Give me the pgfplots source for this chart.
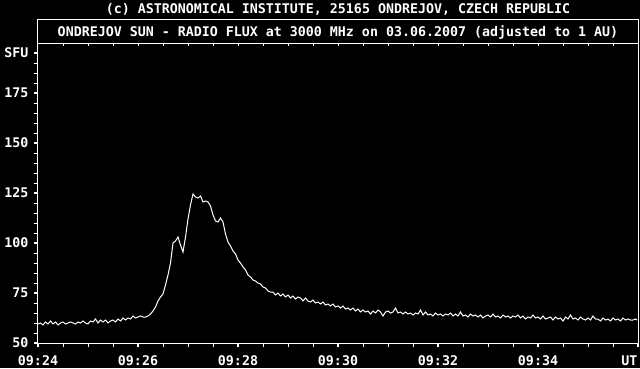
\documentclass[border=0pt]{standalone}
\usepackage{fontspec}
\setmainfont{DejaVu Sans Mono}
\usepackage{pgfplots}
\usepackage{pgfplotstable}
\pgfplotsset{compat=1.18}
\newcommand\f{\fontsize{13.3pt}{16pt}\selectfont\bfseries}

\pgfplotstableread{
t v
0.00 59.5
0.05 60.0
0.10 59.0
0.15 60.5
0.20 59.5
0.25 61.0
0.30 59.5
0.35 60.5
0.40 59.0
0.45 60.0
0.50 60.5
0.55 59.5
0.60 60.0
0.65 60.5
0.70 60.0
0.75 59.5
0.80 60.5
0.85 60.0
0.90 61.0
0.95 60.0
1.00 59.5
1.05 61.0
1.10 60.5
1.15 62.0
1.20 60.0
1.25 61.5
1.30 60.5
1.35 61.5
1.40 60.0
1.45 61.0
1.50 61.5
1.55 60.5
1.60 62.0
1.65 61.0
1.70 62.5
1.75 61.5
1.80 62.5
1.85 62.0
1.90 63.5
1.95 62.5
2.00 63.0
2.05 63.5
2.10 63.0
2.15 63.0
2.20 63.5
2.25 64.5
2.30 66.0
2.35 68.0
2.40 71.0
2.45 73.0
2.50 74.5
2.55 79.0
2.60 84.0
2.65 90.0
2.70 100.0
2.75 101.0
2.80 103.0
2.85 99.0
2.90 95.5
2.95 103.0
3.00 112.0
3.05 119.0
3.10 124.5
3.15 123.0
3.20 122.5
3.25 123.5
3.30 120.5
3.35 121.0
3.40 120.5
3.45 118.5
3.50 114.0
3.55 111.0
3.60 110.5
3.65 112.5
3.70 110.5
3.75 104.5
3.80 100.5
3.85 98.5
3.90 96.0
3.95 94.5
4.00 91.5
4.05 90.0
4.10 88.0
4.15 86.5
4.20 84.0
4.25 83.0
4.30 81.5
4.35 81.0
4.40 80.0
4.45 79.5
4.50 78.0
4.55 77.5
4.60 76.0
4.65 75.5
4.70 75.5
4.75 74.0
4.80 75.0
4.85 73.5
4.90 74.5
4.95 73.0
5.00 74.0
5.05 72.5
5.10 73.5
5.15 72.0
5.20 73.0
5.25 72.5
5.30 71.0
5.35 72.5
5.40 71.0
5.45 70.5
5.50 71.5
5.55 70.0
5.60 70.5
5.65 69.5
5.70 70.5
5.75 69.0
5.80 69.5
5.85 68.5
5.90 69.5
5.95 68.0
6.00 68.5
6.05 67.5
6.10 68.5
6.15 67.0
6.20 67.5
6.25 66.5
6.30 67.5
6.35 66.0
6.40 67.0
6.45 65.5
6.50 66.5
6.55 65.5
6.60 66.0
6.65 64.5
6.70 66.0
6.75 65.0
6.80 66.5
6.85 65.5
6.90 63.5
6.95 65.5
7.00 66.0
7.05 65.0
7.10 65.5
7.15 67.5
7.20 65.0
7.25 65.5
7.30 64.5
7.35 65.5
7.40 64.5
7.45 65.0
7.50 64.0
7.55 65.0
7.60 64.5
7.65 66.5
7.70 64.0
7.75 65.5
7.80 64.0
7.85 64.5
7.90 63.5
7.95 65.0
8.00 64.0
8.05 64.5
8.10 63.5
8.15 64.5
8.20 64.0
8.25 65.0
8.30 63.5
8.35 64.5
8.40 63.5
8.45 65.5
8.50 63.5
8.55 64.0
8.60 63.0
8.65 64.5
8.70 63.5
8.75 64.0
8.80 63.0
8.85 64.0
8.90 62.5
8.95 63.5
9.00 64.0
9.05 63.0
9.10 64.5
9.15 63.0
9.20 63.5
9.25 62.5
9.30 64.0
9.35 63.0
9.40 63.5
9.45 62.5
9.50 63.5
9.55 63.0
9.60 64.0
9.65 62.5
9.70 63.5
9.75 62.0
9.80 63.0
9.85 62.5
9.90 64.0
9.95 62.5
10.00 63.0
10.05 62.0
10.10 63.5
10.15 62.0
10.20 62.5
10.25 63.0
10.30 61.5
10.35 63.0
10.40 62.0
10.45 62.5
10.50 61.0
10.55 63.0
10.60 62.0
10.65 64.0
10.70 62.0
10.75 62.5
10.80 61.5
10.85 63.0
10.90 62.0
10.95 61.5
11.00 62.5
11.05 61.5
11.10 63.5
11.15 62.0
11.20 62.0
11.25 61.0
11.30 62.5
11.35 61.5
11.40 62.0
11.45 61.0
11.50 62.5
11.55 61.5
11.60 62.0
11.65 61.0
11.70 62.5
11.75 61.5
11.80 62.0
11.85 61.5
11.90 61.5
11.95 62.0
11.98 61.5
}\flux

\begin{document}
\begin{tikzpicture}
\path[use as bounding box, fill=black] (-38pt,-25pt) rectangle (602pt,343pt);
\begin{axis}[
  at={(0,0)}, anchor=south west,
  scale only axis, width=600pt, height=300pt,
  xmin=0, xmax=12, ymin=50, ymax=200,
  axis line style={white, line width=1pt},
  tick align=outside,
  xtick pos=bottom, ytick pos=left,
  xtick={0,2,4,6,8,10},
  xticklabels={09:24,09:26,09:28,09:30,09:32,09:34},
  minor xtick={0.5,1,...,11.5},
  extra x ticks={12}, extra x tick labels={UT},
  extra x tick style={xticklabel style={anchor=north east, xshift=3pt}},
  ytick={50,75,...,175},
  minor ytick={55,60,...,195},
  extra y ticks={195}, extra y tick labels={SFU},
  major tick length=4pt, minor tick length=4pt,
  major tick style={white, line width=2.5pt},
  minor tick style={white, line width=1pt},
  tick label style={white, font=\f},
  xticklabel style={yshift=-5pt},
  yticklabel style={xshift=-2pt},
  /pgf/number format/assume math mode=true,
]
\addplot[white, line width=1pt] table[x=t, y=v] {\flux};
\end{axis}
\begin{axis}[
  at={(0,0)}, anchor=south west,
  scale only axis, width=600pt, height=300pt,
  xmin=0, xmax=12, ymin=50, ymax=200,
  axis line style={draw=none},
  tick align=inside, xtick pos=top,
  xtick={0.5,1,...,11.5}, xticklabels={},
  ytick=\empty,
  major tick length=3pt,
  major tick style={white, line width=1pt},
]
\addplot[draw=none] coordinates {(0,50)};
\end{axis}
\draw[white, line width=1pt] (0,300pt) -- (0,324pt) -- (600pt,324pt) -- (600pt,300pt);
\node[white, anchor=base, font=\f, inner sep=0pt] at (300pt,307pt) {ONDREJOV SUN - RADIO FLUX at 3000 MHz on 03.06.2007 (adjusted to 1 AU)};
\node[white, anchor=base, font=\f, inner sep=0pt] at (300pt,330pt) {(c) ASTRONOMICAL INSTITUTE, 25165 ONDREJOV, CZECH REPUBLIC};
\end{tikzpicture}
\end{document}
